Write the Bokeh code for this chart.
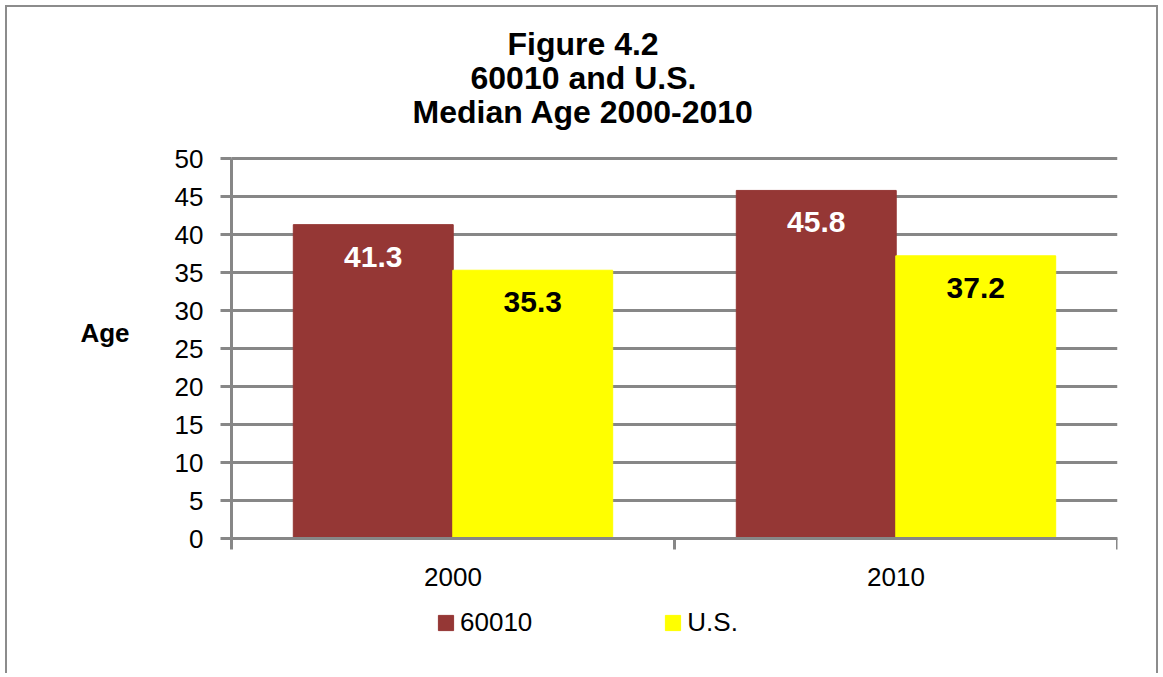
from bokeh.plotting import figure
from bokeh.models import (Range1d, FixedTicker, ColumnDataSource, LabelSet, Legend,
                          LegendItem, Title, Label)
from bokeh.transform import dodge
from bokeh.embed import file_html
from bokeh.resources import INLINE
from bokeh.core.properties import value

# ---- data ----
years = ["2000", "2010"]
zip_60010 = [41.3, 45.8]
us_values = [35.3, 37.2]
series_names = ["60010", "U.S."]
title_lines = ["Figure 4.2", "60010 and U.S.", "Median Age 2000-2010"]
y_label = "Age"
y_ticks = [0, 5, 10, 15, 20, 25, 30, 35, 40, 45, 50]

FONT = "Liberation Sans"
GRAY = "#878787"
MAROON = "#953735"
YELLOW = "#FFFF00"

pos = [i + 0.5 for i in range(len(years))]
bounds = [float(i) for i in range(len(years) + 1)]
y_max = y_ticks[-1]
# the plotting area extends past the value range (below zero, left of the value
# axis and slightly above the top tick) to hold labels, legend and axis title
y_lo = -15.39
y_hi = 52.37
x_lo = -0.3702

src = ColumnDataSource(dict(
    x=pos, a=zip_60010, b=us_values,
    la=[f"{v:.1f}" for v in zip_60010],
    lb=[f"{v:.1f}" for v in us_values],
))
grid_src = ColumnDataSource(dict(y=y_ticks))

p = figure(width=1153, height=668, output_backend="svg", toolbar_location=None,
           x_range=Range1d(x_lo, len(years)), y_range=Range1d(y_lo, y_hi),
           min_border_left=60, min_border_right=43, min_border_top=133,
           min_border_bottom=20)
p.outline_line_color = None
p.background_fill_color = "white"
p.border_fill_color = "white"
p.styles = {"margin-left": "5px", "margin-top": "5px",
            "border-left": "2px solid #8c8c8c", "border-top": "2px solid #8c8c8c",
            "border-right": "2px solid #8c8c8c"}

# horizontal gridlines, only across the category area
p.xgrid.grid_line_color = None
p.ygrid.grid_line_color = None
p.segment(x0=bounds[0], x1=bounds[-1], y0="y", y1="y", source=grid_src,
          line_color=GRAY, line_width=3, level="underlay")

r1 = p.vbar(x=dodge("x", -0.18), top="a", width=0.361, source=src,
            fill_color=MAROON, line_color=MAROON)
r2 = p.vbar(x=dodge("x", 0.18), top="b", width=0.361, source=src,
            fill_color=YELLOW, line_color=YELLOW)

# y axis, pinned at x = 0
ya = p.yaxis[0]
ya.fixed_location = 0
ya.ticker = FixedTicker(ticks=y_ticks)
ya.bounds = (0, y_max)
ya.axis_line_color = GRAY
ya.axis_line_width = 3
ya.major_tick_line_color = GRAY
ya.major_tick_line_width = 3
ya.major_tick_out = 11
ya.major_tick_in = 0
ya.minor_tick_line_color = None
ya.major_label_text_font = FONT
ya.major_label_text_font_size = "26px"
ya.major_label_text_color = "black"
ya.major_label_standoff = 17

# x axis, pinned at y = 0
xa = p.xaxis[0]
xa.fixed_location = 0
xa.bounds = (0, len(years))
xa.ticker = FixedTicker(ticks=pos, minor_ticks=bounds)
xa.major_label_overrides = {t: y for t, y in zip(pos, years)}
xa.major_tick_line_color = None
xa.major_tick_out = 0
xa.major_tick_in = 0
xa.minor_tick_line_color = GRAY
xa.minor_tick_line_width = 3
xa.minor_tick_out = 11
xa.minor_tick_in = 0
xa.axis_line_color = GRAY
xa.axis_line_width = 3
xa.major_label_text_font = FONT
xa.major_label_text_font_size = "26px"
xa.major_label_text_color = "black"
xa.major_label_standoff = 18

# axis title "Age", horizontal, left of the value axis
p.add_layout(Label(x=-0.2856, y=27, text=y_label, text_align="center",
                   text_baseline="middle", text_font=FONT, text_font_size="26px",
                   text_font_style="bold", text_color="black"))

# data labels
p.add_layout(LabelSet(x=dodge("x", -0.18), y="a", text="la", source=src, y_offset=-32,
                      text_align="center", text_baseline="middle",
                      text_font=value(FONT), text_font_size="30px",
                      text_font_style="bold", text_color="white"))
p.add_layout(LabelSet(x=dodge("x", 0.18), y="b", text="lb", source=src, y_offset=-32,
                      text_align="center", text_baseline="middle",
                      text_font=value(FONT), text_font_size="30px",
                      text_font_style="bold", text_color="black"))

# blank spacer between plotting area and title block
p.add_layout(Title(text=" ", text_font_size="10px", standoff=0), "above")

# titles (bottom line first), left aligned with offsets so the block is centred
frame_to_axis = 164
title_offsets = [181, 239, 276]
for line, off in zip(reversed(title_lines), title_offsets):
    p.add_layout(Title(text=line, align="left", offset=off + frame_to_axis, standoff=-4,
                       text_font=FONT, text_font_size="32px", text_font_style="bold",
                       text_color="black"), "above")

# legend (inside the extended plotting area, below the category labels)
legend = Legend(items=[LegendItem(label=series_names[0], renderers=[r1]),
                       LegendItem(label=series_names[1], renderers=[r2])],
                orientation="horizontal", location=(205 + frame_to_axis, 17),
                glyph_width=19, glyph_height=19, label_standoff=5, spacing=131,
                padding=0, margin=0, border_line_color=None,
                background_fill_alpha=0,
                label_text_font=FONT, label_text_font_size="26px",
                label_text_color="black")
p.add_layout(legend)

open("out.html", "w").write(file_html(p, INLINE))
